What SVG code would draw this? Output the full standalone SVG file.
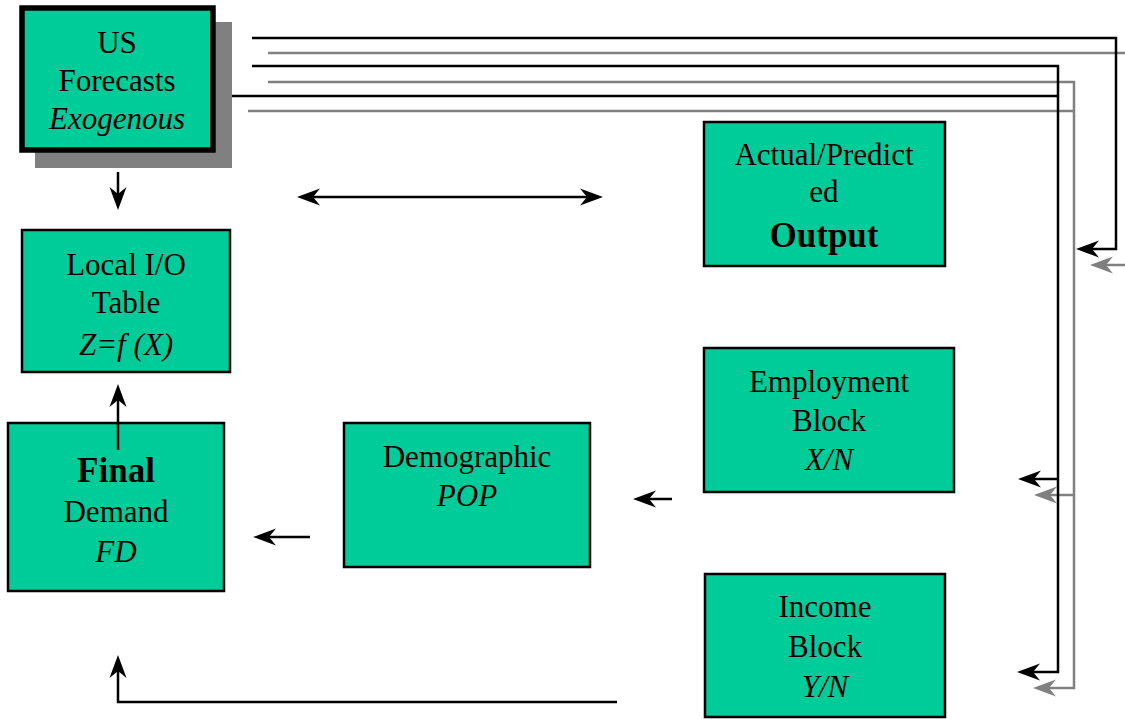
<svg xmlns="http://www.w3.org/2000/svg" width="1125" height="719" viewBox="0 0 1125 719">
  <style>
    .box { fill: #00CC99; stroke: #000000; stroke-width: 2.5; }
    .t { font-family: "Liberation Serif", "Times New Roman", serif; font-size: 31px; fill: #000000; text-anchor: middle; }
    .i { font-style: italic; }
    .b { font-weight: bold; font-size: 35px; }
    .lk { fill: none; stroke: #000000; stroke-width: 2.5; }
    .lg { fill: none; stroke: #808080; stroke-width: 2.5; }
  </style>
  <defs>
    <marker id="ah" viewBox="-8 -9 25 18" markerWidth="25" markerHeight="18" refX="0" refY="0" markerUnits="userSpaceOnUse" orient="auto-start-reverse">
      <path d="M16,0 L-7,-8.5 L0,0 L-7,8.5 Z" fill="#000000"/>
    </marker>
    <marker id="ahg" viewBox="-8 -9 25 18" markerWidth="25" markerHeight="18" refX="0" refY="0" markerUnits="userSpaceOnUse" orient="auto">
      <path d="M16,0 L-7,-8.5 L0,0 L-7,8.5 Z" fill="#808080"/>
    </marker>
  </defs>

  <rect width="1125" height="719" fill="#ffffff"/>

  <g id="us-forecasts">
    <rect x="35" y="22" width="197" height="146" fill="#808080"/>
    <rect x="22" y="8" width="191" height="142" fill="#00CC99" stroke="#000000" stroke-width="5.5"/>
    <text class="t" x="117" y="53">US</text>
    <text class="t" x="117" y="91">Forecasts</text>
    <text class="t i" x="117" y="129">Exogenous</text>
  </g>

  <g id="output">
    <rect class="box" x="704" y="122" width="241" height="144"/>
    <text class="t" x="824" y="165">Actual/Predict</text>
    <text class="t" x="824" y="202">ed</text>
    <text class="t b" x="824" y="247">Output</text>
  </g>

  <g id="local-io">
    <rect class="box" x="22" y="230" width="208" height="142"/>
    <text class="t" x="126" y="275">Local I/O</text>
    <text class="t" x="126" y="313">Table</text>
    <text class="t i" x="126" y="355">Z=f (X)</text>
  </g>

  <g id="final-demand">
    <rect class="box" x="8" y="423" width="216" height="168"/>
    <text class="t b" x="116" y="482">Final</text>
    <text class="t" x="116" y="522">Demand</text>
    <text class="t i" x="116" y="562">FD</text>
  </g>

  <g id="demographic">
    <rect class="box" x="344" y="423" width="246" height="144"/>
    <text class="t" x="467" y="467">Demographic</text>
    <text class="t i" x="467" y="506">POP</text>
  </g>

  <g id="employment">
    <rect class="box" x="704" y="348" width="250" height="144"/>
    <text class="t" x="829" y="392">Employment</text>
    <text class="t" x="829" y="431">Block</text>
    <text class="t i" x="829" y="470">X/N</text>
  </g>

  <g id="income">
    <rect class="box" x="705" y="574" width="240" height="143"/>
    <text class="t" x="825" y="617">Income</text>
    <text class="t" x="825" y="657">Block</text>
    <text class="t i" x="825" y="697">Y/N</text>
  </g>

  <g id="connectors">
    <!-- feed lines from the exogenous forecasts -->
    <path class="lg" d="M268,53 H1125"/>
    <path class="lg" d="M1125,265 H1106" marker-end="url(#ahg)"/>
    <path class="lk" d="M252,38 H1116 V249 H1092" marker-end="url(#ah)"/>
    <path class="lg" d="M268,82 H1074 V688 H1049" marker-end="url(#ahg)"/>
    <path class="lg" d="M248,111 H1074"/>
    <path class="lg" d="M1074,495 H1050" marker-end="url(#ahg)"/>
    <path class="lk" d="M252,66 H1058 V672 H1033" marker-end="url(#ah)"/>
    <path class="lk" d="M232,96 H1058"/>
    <path class="lk" d="M1058,479 H1034" marker-end="url(#ah)"/>
    <!-- internal flows -->
    <path class="lk" d="M118,172 V194" marker-end="url(#ah)"/>
    <path class="lk" d="M118,450 V400" marker-end="url(#ah)"/>
    <path class="lk" d="M617,702 H118 V671" marker-end="url(#ah)"/>
    <path class="lk" d="M310,537 H269" marker-end="url(#ah)"/>
    <path class="lk" d="M672,499 H649" marker-end="url(#ah)"/>
    <path class="lk" d="M313,197 H587" marker-start="url(#ah)" marker-end="url(#ah)"/>
  </g>
</svg>
